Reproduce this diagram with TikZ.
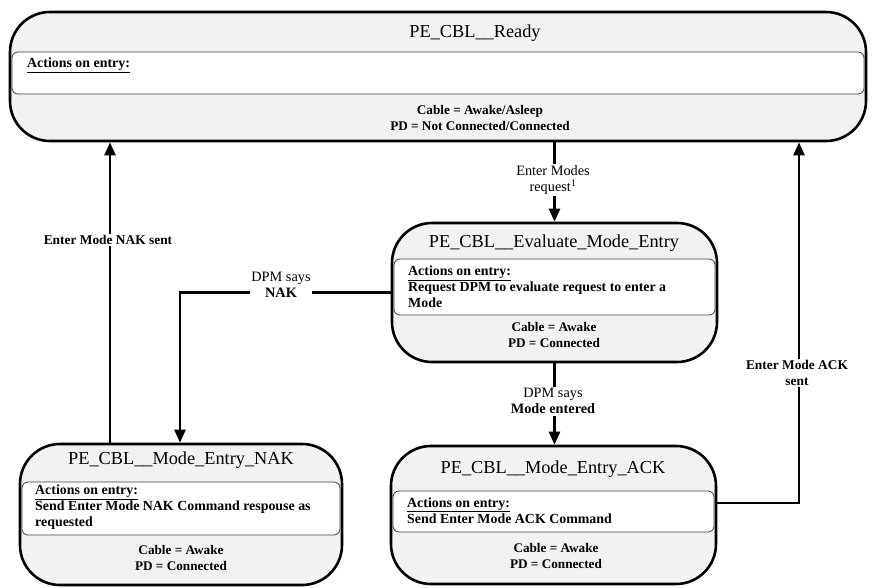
\documentclass[tikz,border=0pt]{standalone}
\usepackage{fontspec}
\setmainfont{Liberation Serif}
\usetikzlibrary{arrows.meta}

\definecolor{statefill}{HTML}{F2F2F2}
\definecolor{bandline}{HTML}{404040}

\tikzset{
  statebox/.style={draw=black, line width=2.6pt, fill=statefill,
    rounded corners=40pt, inner sep=0pt},
  band/.style={draw=bandline, line width=0.8pt, fill=white,
    rounded corners=6pt, inner sep=0pt},
  title/.style={font=\fontsize{18.3}{22}\selectfont, inner sep=0pt},
  acts/.style={font=\bfseries\fontsize{13.9}{16}\selectfont, anchor=west,
    align=left, inner sep=0pt},
  cond/.style={font=\bfseries\fontsize{13.2}{16}\selectfont, align=center,
    inner sep=0pt},
  flow/.style={line width=2.4pt, -{Triangle[width=11pt,length=13pt]}},
  lbl/.style={fill=white, align=center, inner sep=1.5pt,
    font=\fontsize{14.3}{16.5}\selectfont},
  lblb/.style={lbl, font=\bfseries\fontsize{13.4}{16.5}\selectfont},
}

\newcommand{\entrytag}{\underline{Actions on entry:}}

\begin{document}
\begin{tikzpicture}[x=1pt, y=-1pt]
\useasboundingbox (0,0) rectangle (873,587);

% ---- state boxes -------------------------------------------------------
\node[statebox, minimum width=856pt, minimum height=129pt] (ready) at (438,76.5) {};
\node[band, minimum width=852pt, minimum height=42pt] (readyband) at (438,73) {};
\node[title] (readytitle) at (475,33) {PE\_CBL\_\_Ready};
\node[acts] (readyacts) at (27,65) {\entrytag};
\node[cond] (readycond) at (480,118) {Cable = Awake/Asleep\\PD = Not Connected/Connected};

\node[statebox, minimum width=325pt, minimum height=139pt] (eval) at (554.5,292.5) {};
\node[band, minimum width=321pt, minimum height=56pt] (evalband) at (554.5,287) {};
\node[title] (evaltitle) at (554,243) {PE\_CBL\_\_Evaluate\_Mode\_Entry};
\node[acts] (evalacts) at (408,287) {\entrytag\\Request DPM to evaluate request to enter a\\Mode};
\node[cond] (evalcond) at (554,335) {Cable = Awake\\PD = Connected};

\node[statebox, minimum width=322pt, minimum height=141pt] (nak) at (181,514.5) {};
\node[band, minimum width=318pt, minimum height=53pt] (nakband) at (181,508.5) {};
\node[title] (naktitle) at (181,460) {PE\_CBL\_\_Mode\_Entry\_NAK};
\node[acts] (nakacts) at (35,507.5) {\entrytag\\Send Enter Mode NAK Command respouse as\\requested};
\node[cond] (nakcond) at (181,558) {Cable = Awake\\PD = Connected};

\node[statebox, minimum width=325pt, minimum height=138pt] (ack) at (553.5,515) {};
\node[band, minimum width=321pt, minimum height=41pt] (ackband) at (553.5,511.5) {};
\node[title] (acktitle) at (553,469) {PE\_CBL\_\_Mode\_Entry\_ACK};
\node[acts] (ackacts) at (407,510.5) {\entrytag\\Send Enter Mode ACK Command};
\node[cond] (ackcond) at (556,556) {Cable = Awake\\PD = Connected};

% ---- transitions ---------------------------------------------------------
\coordinate (nakup) at (110,0);
\coordinate (ackup) at (799,0);
\coordinate (nakdown) at (180,0);

\draw[flow] (ready.south -| eval.north) -- (eval.north);
\draw[flow] (eval.south) -- (ack.north -| eval.south);
\draw[flow] (eval.west) -| (nak.north -| nakdown);
\draw[flow] (nak.north -| nakup) -- (ready.south -| nakup);
\draw[flow] ([yshift=12pt]ack.east) -| (ready.south -| ackup);

% ---- transition labels ------------------------------------------------------
\node[lbl] (lreq) at (553,180) {Enter Modes\\request\textsuperscript{1}};
\node[lbl] (lentered) at (553,401) {DPM says\\\textbf{Mode entered}};
\node[lbl] (lnak) at (281,285) {DPM says\\\textbf{NAK}};
\node[lblb] (lnaksent) at (108,240) {Enter Mode NAK sent};
\node[lblb] (lacksent) at (797,373) {Enter Mode ACK\\sent};
\end{tikzpicture}
\end{document}
